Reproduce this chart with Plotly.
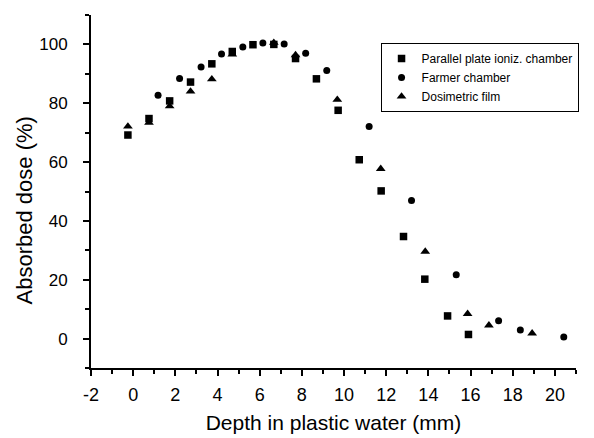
import plotly.graph_objects as go

# Parallel plate ionization chamber
pp_depth = [-0.25, 0.75, 1.73, 2.72, 3.73, 4.7, 5.68, 6.67, 7.7, 8.69, 9.72, 10.72, 11.76, 12.82, 13.83, 14.91, 15.9]
pp_dose = [69.2, 74.8, 80.8, 87.2, 93.4, 97.6, 99.9, 100.0, 95.2, 88.3, 77.6, 60.8, 50.2, 34.7, 20.2, 7.7, 1.4]

# Farmer chamber
fc_depth = [1.18, 2.2, 3.22, 4.19, 5.2, 6.15, 7.16, 8.18, 9.18, 11.19, 13.2, 15.32, 17.33, 18.36, 20.42]
fc_dose = [82.7, 88.4, 92.3, 96.7, 99.1, 100.5, 100.1, 97.0, 91.1, 72.1, 46.9, 21.7, 6.1, 2.9, 0.5]

# Dosimetric film
df_depth = [-0.25, 0.75, 1.73, 2.72, 3.73, 4.7, 6.67, 7.7, 9.68, 11.74, 13.85, 15.86, 16.87, 18.92]
df_dose = [72.1, 73.4, 79.0, 84.0, 88.2, 96.6, 100.6, 96.4, 81.2, 57.7, 29.6, 8.4, 4.5, 1.8]

x_tickvals = [-2, 0, 2, 4, 6, 8, 10, 12, 14, 16, 18, 20]
x_ticktext = ["-2", "0", "2", "4", "6", "8", "10", "12", "14", "16", "18", "20"]
y_tickvals = [0, 20, 40, 60, 80, 100]

fig = go.Figure()
fig.add_trace(go.Scatter(x=pp_depth, y=pp_dose, mode="markers", name="Parallel plate ioniz. chamber",
                         marker=dict(symbol="square", size=7.5, color="black")))
fig.add_trace(go.Scatter(x=fc_depth, y=fc_dose, mode="markers", name="Farmer chamber",
                         marker=dict(symbol="circle", size=7, color="black")))
fig.add_trace(go.Scatter(x=df_depth, y=df_dose, mode="markers", name="Dosimetric film",
                         marker=dict(symbol="triangle-up", size=8.5, color="black")))

font = "Liberation Sans, Arial, sans-serif"
fig.update_layout(
    width=594, height=438,
    margin=dict(l=91, r=18, t=15, b=70),
    paper_bgcolor="white", plot_bgcolor="white",
    font=dict(family=font, color="black", size=14),
    showlegend=True,
    legend=dict(x=0.597, y=0.921, xanchor="left", yanchor="top",
                bordercolor="black", borderwidth=1, bgcolor="white",
                font=dict(size=12, family=font), tracegroupgap=0,
                itemwidth=30),
    xaxis=dict(range=[-2, 21], tickvals=x_tickvals, ticktext=x_ticktext,
               ticks="outside", ticklen=6, tickwidth=2, tickcolor="black",
               showline=True, linecolor="black", linewidth=2, showgrid=False, zeroline=False,
               automargin=False, ticklabelstandoff=3,
               minor=dict(dtick=1, tick0=-2, ticks="outside", ticklen=4, tickwidth=2, tickcolor="black"),
               title=dict(text="Depth in plastic water (mm)", font=dict(size=21), standoff=12),
               tickfont=dict(size=18)),
    yaxis=dict(range=[-10, 110], tickvals=y_tickvals,
               ticks="outside", ticklen=6, tickwidth=2, tickcolor="black",
               showline=True, linecolor="black", linewidth=2, showgrid=False, zeroline=False,
               automargin=False, ticklabelstandoff=12,
               minor=dict(dtick=10, tick0=0, ticks="outside", ticklen=4, tickwidth=2, tickcolor="black"),
               tickfont=dict(size=17)),
    annotations=[dict(text="Absorbed dose (%)", textangle=-90, showarrow=False,
                      xref="paper", yref="paper", x=-0.137, y=0.445,
                      xanchor="center", yanchor="middle", font=dict(size=22))],
)
fig.write_html("out.html", config={"displayModeBar": False},
               post_script="document.body.style.margin='0';")
